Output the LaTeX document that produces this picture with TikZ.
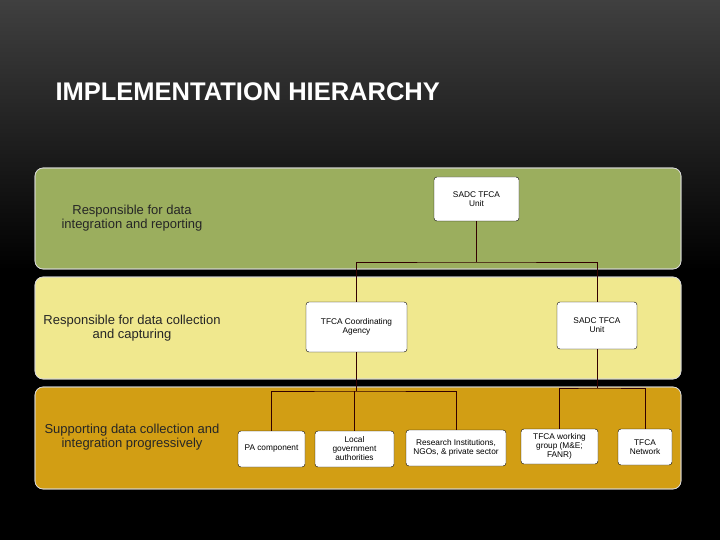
\documentclass[tikz,border=0pt]{standalone}
\usepackage{fontspec}
\setmainfont{Liberation Sans}
\begin{document}
\begin{tikzpicture}[x=1pt,y=-1pt,
  band/.style={rounded corners=8pt,draw=white!85!black,line width=0.6pt},
  bx/.style={draw=black,fill=white,rounded corners=3pt,align=center,font=\fontsize{8.3}{9}\selectfont,inner sep=1pt},
  lbl/.style={align=center,font=\fontsize{13}{14.5}\selectfont,text=black!85},
  ln/.style={draw=black!80!red,line width=0.8pt}]
\useasboundingbox (0,0) rectangle (720,540);
\shade[top color=black!75,bottom color=black] (0,0) rectangle (720,270);
\fill[black] (0,270) rectangle (720,540);
\node[anchor=west,text=white,font=\fontsize{25.5}{28}\selectfont\bfseries] (title) at (52,92) {IMPLEMENTATION HIERARCHY};
\fill[band,fill={rgb,255:red,155;green,174;blue,94}] (35,168) rectangle (681,269);
\fill[band,fill={rgb,255:red,240;green,232;blue,142}] (35,277) rectangle (681,379);
\fill[band,fill={rgb,255:red,210;green,158;blue,20}] (35,387) rectangle (681,489);
\draw[band] (35,168) rectangle (681,269);
\draw[band] (35,277) rectangle (681,379);
\draw[band] (35,387) rectangle (681,489);
\node[lbl] (l1) at (132,218) {Responsible for data\\integration and reporting};
\node[lbl] (l2) at (132,328) {Responsible for data collection\\and capturing};
\node[lbl] (l3) at (132,437) {Supporting data collection and\\integration progressively};
\node[bx,minimum width=85pt,minimum height=44pt] (s1) at (476.5,199) {SADC TFCA\\Unit};
\node[bx,minimum width=101pt,minimum height=50pt] (ca) at (356.5,327) {TFCA Coordinating\\Agency};
\node[bx,minimum width=80pt,minimum height=47pt] (s2) at (597,325.5) {SADC TFCA\\Unit};
\node[bx,minimum width=67pt,minimum height=36pt] (pa) at (271.5,449) {PA component};
\node[bx,minimum width=79pt,minimum height=36pt] (lg) at (354.5,449) {Local\\government\\authorities};
\node[bx,minimum width=100pt,minimum height=36pt] (ri) at (456,448) {Research Institutions,\\NGOs, \& private sector};
\node[bx,minimum width=77pt,minimum height=35pt] (wg) at (559.5,446.5) {TFCA working\\group (M\&E;\\FANR)};
\node[bx,minimum width=54pt,minimum height=36pt] (nw) at (645,447) {TFCA\\Network};
\coordinate (j1) at (476.5,262);
\coordinate (j2) at (356.5,391);
\coordinate (j3) at (597,388);
\draw[ln] (s1.south) -- (j1);
\draw[ln] (ca.north) |- (j1) -| (s2.north);
\draw[ln] (ca.south) -- (j2);
\draw[ln] (pa.north) |- (j2) -| (ri.north);
\draw[ln] (lg.north) -- (lg.north |- j2);
\draw[ln] (s2.south) -- (j3);
\draw[ln] (wg.north) |- (j3) -| (nw.north);
\end{tikzpicture}
\end{document}
